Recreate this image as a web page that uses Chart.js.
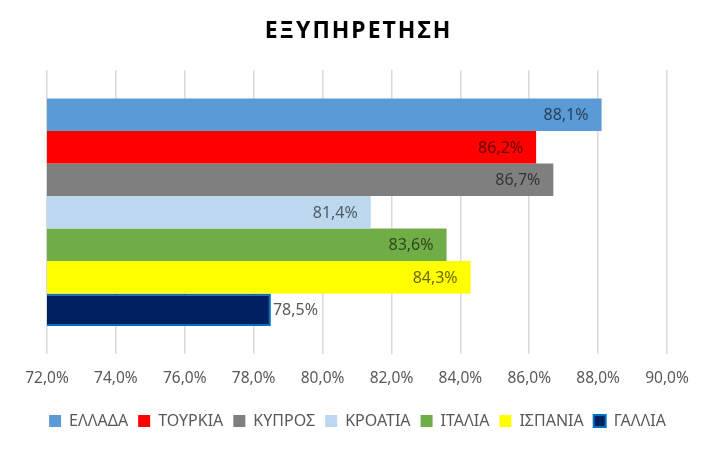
<!DOCTYPE html>
<html>
<head>
<meta charset="utf-8">
<script src="https://cdn.jsdelivr.net/npm/chart.js@4"></script>
<style>
  html, body { margin: 0; padding: 0; background: #fff; }
  #wrap { width: 715px; height: 452px; }
</style>
</head>
<body>
<div id="wrap"><canvas id="chart"></canvas></div>
<script>
const chartTitle = "ΕΞΥΠΗΡΕΤΗΣΗ";
const countries = ["ΕΛΛΑΔΑ", "ΤΟΥΡΚΙΑ", "ΚΥΠΡΟΣ", "ΚΡΟΑΤΙΑ", "ΙΤΑΛΙΑ", "ΙΣΠΑΝΙΑ", "ΓΑΛΛΙΑ"];
const values = [88.1, 86.2, 86.7, 81.4, 83.6, 84.3, 78.5];
const fills = ["#5B9BD5", "#FF0000", "#7F7F7F", "#BDD7EE", "#70AD47", "#FFFF00", "#002060"];
const borders = ["#5B9BD5", "#FF0000", "#7F7F7F", "#BDD7EE", "#70AD47", "#FFFF00", "#0070C0"];
const category = [""];

const fmt = v => v.toFixed(1).replace(".", ",") + "%";
const FONT = "'Noto Sans', sans-serif";

// title drawn by hand so it can get a little letter spacing
const spacedTitle = {
  id: "spacedTitle",
  afterDraw(chart) {
    const ctx = chart.ctx;
    ctx.save();
    ctx.font = "bold 23px " + FONT;
    if ("letterSpacing" in ctx) ctx.letterSpacing = "2px";
    ctx.fillStyle = "#000";
    ctx.textAlign = "center";
    ctx.textBaseline = "middle";
    ctx.fillText(chartTitle, chart.width / 2 + 1, 31);
    ctx.restore();
  }
};

// value labels at the inside end of each bar (ΓΑΛΛΙΑ sits just outside)
const barLabels = {
  id: "barLabels",
  afterDatasetsDraw(chart) {
    const ctx = chart.ctx;
    ctx.save();
    ctx.font = "16px " + FONT;
    ctx.fillStyle = "rgba(0,0,0,0.6)";
    ctx.textBaseline = "middle";
    chart.data.datasets.forEach((ds, i) => {
      const bar = chart.getDatasetMeta(i).data[0];
      if (!bar) return;
      const txt = fmt(ds.data[0]);
      if (i === countries.length - 1) {
        ctx.fillStyle = "#595959";
        ctx.textAlign = "left";
        ctx.fillText(txt, bar.x + 2, bar.y + 1);
      } else {
        ctx.textAlign = "right";
        ctx.fillText(txt, bar.x - 13, bar.y + 1);
      }
    });
    ctx.restore();
  }
};

// empty side axes, only used to hold the plot margins
const spacer = w => ({
  type: "category",
  grid: { display: false },
  border: { display: false },
  ticks: { display: false },
  afterFit: s => { s.width = w; }
});

new Chart(document.getElementById("chart"), {
  type: "bar",
  data: {
    labels: category,
    datasets: countries.map((name, i) => ({
      label: name,
      data: [values[i]],
      backgroundColor: fills[i],
      borderColor: borders[i],
      borderWidth: i === countries.length - 1 ? 2 : 0,
      categoryPercentage: 0.8,
      barPercentage: 1.0
    }))
  },
  options: {
    indexAxis: "y",
    responsive: true,
    maintainAspectRatio: false,
    animation: false,
    layout: { padding: { left: 0, right: 0, top: 70, bottom: 13 } },
    scales: {
      x: {
        min: 72,
        max: 90,
        ticks: {
          stepSize: 2,
          color: "#595959",
          font: { family: FONT, size: 15.5 },
          padding: 15,
          callback: v => fmt(v)
        },
        grid: { color: "#D9D9D9", lineWidth: 1.5, drawTicks: false },
        border: { display: false }
      },
      y: Object.assign(spacer(47), { position: "left" }),
      yRight: Object.assign(spacer(48), { position: "right", labels: category })
    },
    plugins: {
      title: { display: false },
      legend: {
        position: "bottom",
        labels: {
          boxWidth: 12,
          boxHeight: 12,
          padding: 10,
          color: "#595959",
          font: { family: FONT, size: 16 }
        }
      },
      tooltip: { enabled: false }
    }
  },
  plugins: [barLabels, spacedTitle]
});
</script>
</body>
</html>
